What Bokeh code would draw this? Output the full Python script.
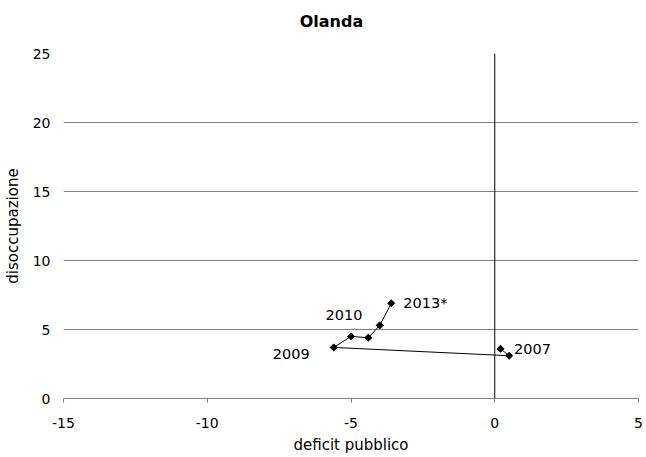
import numpy as np
from bokeh.plotting import figure
from bokeh.models import ColumnDataSource, FixedTicker, Span, LinearAxis
from bokeh.core.properties import value
from bokeh.embed import file_html
from bokeh.resources import INLINE

# data
title_text = "Olanda"
years = ["2007", "2008", "2009", "2010", "2011", "2012", "2013*"]
deficit = [0.2, 0.5, -5.6, -5.0, -4.4, -4.0, -3.6]
unemployment = [3.6, 3.1, 3.7, 4.5, 4.4, 5.3, 6.9]
label_years = ["2007", "2009", "2010", "2013*"]
x_ticks = [-15, -10, -5, 0, 5]
x_tick_labels = ["-15", "-10", "-5", "0", "5"]
y_ticks = [0, 5, 10, 15, 20, 25]

FONT = "DejaVu Sans"

p = figure(width=646, height=457, x_range=(-15, 5), y_range=(0, 25),
           output_backend="svg", toolbar_location=None,
           min_border_left=63, min_border_right=8, min_border_top=53,
           min_border_bottom=59)
p.outline_line_color = None
p.background_fill_color = "white"
p.border_fill_color = "white"

p.xgrid.visible = False
p.ygrid.ticker = FixedTicker(ticks=y_ticks)
p.ygrid.grid_line_color = "#808080"
p.ygrid.grid_line_width = 1

xax = p.below[0]
xax.ticker = FixedTicker(ticks=x_ticks)
xax.major_label_overrides = {t: s for t, s in zip(x_ticks, x_tick_labels)}
xax.axis_line_color = "#808080"
xax.major_tick_line_color = "#808080"
xax.major_tick_out = 4
xax.major_tick_in = 0
xax.minor_tick_line_color = None
xax.major_label_standoff = 15
xax.major_label_text_font = FONT
xax.major_label_text_font_size = "14px"
xax.major_label_text_color = "black"
xax.axis_label = "deficit pubblico"
xax.axis_label_text_font = FONT
xax.axis_label_text_font_size = "15px"
xax.axis_label_text_font_style = "normal"
xax.axis_label_text_color = "black"
xax.axis_label_standoff = 5

yax = p.left[0]
yax.ticker = FixedTicker(ticks=y_ticks)
yax.axis_line_color = None
yax.major_tick_line_color = None
yax.minor_tick_line_color = None
yax.major_tick_out = 0
yax.major_tick_in = 0
yax.major_label_standoff = 13
yax.major_label_text_font = FONT
yax.major_label_text_font_size = "14px"
yax.major_label_text_color = "black"
yax.axis_label = "disoccupazione"
yax.axis_label_text_font = FONT
yax.axis_label_text_font_size = "15px"
yax.axis_label_text_font_style = "normal"
yax.axis_label_text_color = "black"
yax.axis_label_standoff = 8

# title drawn as the label of an empty axis above the frame
top = LinearAxis(ticker=FixedTicker(ticks=[]), axis_line_color=None,
                 major_tick_line_color=None, minor_tick_line_color=None,
                 major_tick_out=0, major_tick_in=0, minor_tick_out=0,
                 major_label_standoff=0, major_label_text_font_size="0px",
                 axis_label=title_text + "\u00a0" * 7,
                 axis_label_text_font=FONT, axis_label_text_font_size="16px",
                 axis_label_text_font_style="bold",
                 axis_label_text_color="black", axis_label_standoff=23)
p.add_layout(top, "above")

# vertical axis at x = 0
p.add_layout(Span(location=0, dimension="height", line_color="black", line_width=1))

src = ColumnDataSource(dict(x=deficit, y=unemployment))
p.line("x", "y", source=src, line_color="black", line_width=1)
p.scatter("x", "y", source=src, marker="square", angle=np.pi / 4, size=5,
          fill_color="black", line_color="black")

# data labels
idx = [years.index(y) for y in label_years]
lab = ColumnDataSource(dict(
    x=[deficit[i] for i in idx],
    y=[unemployment[i] for i in idx],
    t=label_years,
    xo=[13.5, -24, -7, 12],
    yo=[0, 6.5, -21, 0],
    al=["left", "right", "center", "left"],
))
p.text("x", "y", text="t", source=lab, x_offset="xo", y_offset="yo",
       text_align="al", text_baseline="middle", text_font=value(FONT),
       text_font_size="14.5px", text_color="black")

open("out.html", "w").write(file_html(p, INLINE))
